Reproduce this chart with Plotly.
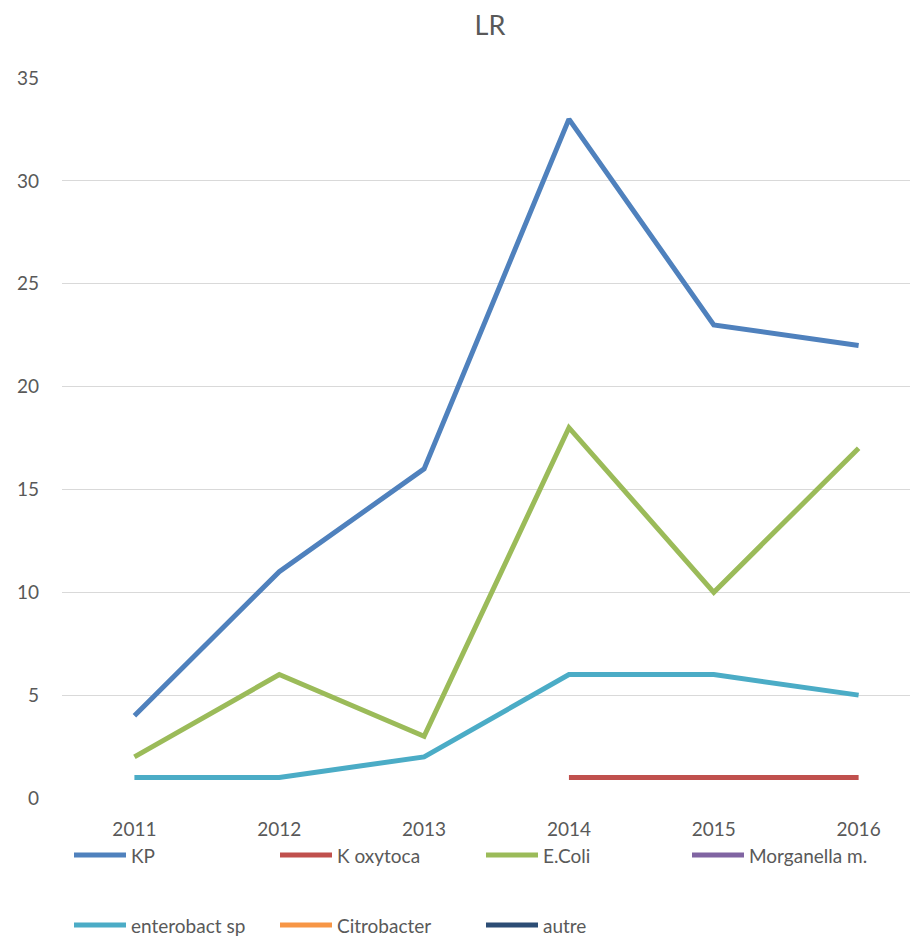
import plotly.graph_objects as go

years = ["2011", "2012", "2013", "2014", "2015", "2016"]
series_names = ["KP", "K oxytoca", "E.Coli", "Morganella m.", "enterobact sp", "Citrobacter", "autre"]
kp = [4, 11, 16, 33, 23, 22]
k_oxytoca = [None, None, None, 1, 1, 1]
e_coli = [2, 6, 3, 18, 10, 17]
morganella = [None, None, None, None, None, None]
enterobact = [1, 1, 2, 6, 6, 5]
citrobacter = [None, None, None, None, None, None]
autre = [None, None, None, None, None, None]
colors = ["#4F81BD", "#C0504D", "#9BBB59", "#8064A2", "#4BACC6", "#F79646", "#2C4D75"]
values = [kp, k_oxytoca, e_coli, morganella, enterobact, citrobacter, autre]

OFF = 8  # page body margin
W, H = 918 - OFF, 937 - OFF
L, R, T, B = 62 - OFF, 0, 78 - OFF, 937 - 798
FONT = "Lato"
TXT = "#595959"

fig = go.Figure()
for name, vals, col in zip(series_names, values, colors):
    fig.add_trace(go.Scatter(x=list(range(len(years))), y=vals, mode="lines", name=name,
                             line=dict(color=col, width=5), showlegend=False,
                             connectgaps=False))

pw, ph = W - L - R, H - T - B
def px(x):
    return (x - OFF - L) / pw
def py(y):
    return (H - B - (y - OFF)) / ph

# manual legend
legend_pos = [(72, 855), (278, 855), (484, 855), (690, 855), (72, 925), (278, 925), (484, 925)]
shapes = []
annotations = []
for (x0, y0), name, col in zip(legend_pos, series_names, colors):
    shapes.append(dict(type="line", xref="paper", yref="paper", x0=px(x0 + 2), x1=px(x0 + 54),
                       y0=py(y0), y1=py(y0), line=dict(color=col, width=5)))
    annotations.append(dict(xref="paper", yref="paper", x=px(x0 + 57), y=py(y0), text=name,
                            showarrow=False, xanchor="left", yanchor="middle",
                            font=dict(family=FONT, size=19, color=TXT)))

fig.update_layout(
    width=W, height=H,
    margin=dict(l=L, r=R, t=T, b=B),
    paper_bgcolor="white", plot_bgcolor="white",
    title=dict(text="LR", x=0.5, xref="paper", y=1 - (26 - OFF) / H, yanchor="middle",
               font=dict(family=FONT, size=27, color=TXT)),
    xaxis=dict(range=[-0.5, 5.41], tickmode="array", tickvals=list(range(len(years))),
               ticktext=years, showgrid=False, zeroline=False, showline=False,
               tickfont=dict(family=FONT, size=19, color=TXT), ticks="", ticklabelstandoff=18),
    yaxis=dict(range=[0, 35], dtick=5, showgrid=True, gridcolor="#D9D9D9", gridwidth=1.3,
               zeroline=False, showline=False, ticks="",
               tickfont=dict(family=FONT, size=19, color=TXT), ticklabelstandoff=22),
    shapes=shapes, annotations=annotations,
)
fig.write_html("out.html")
